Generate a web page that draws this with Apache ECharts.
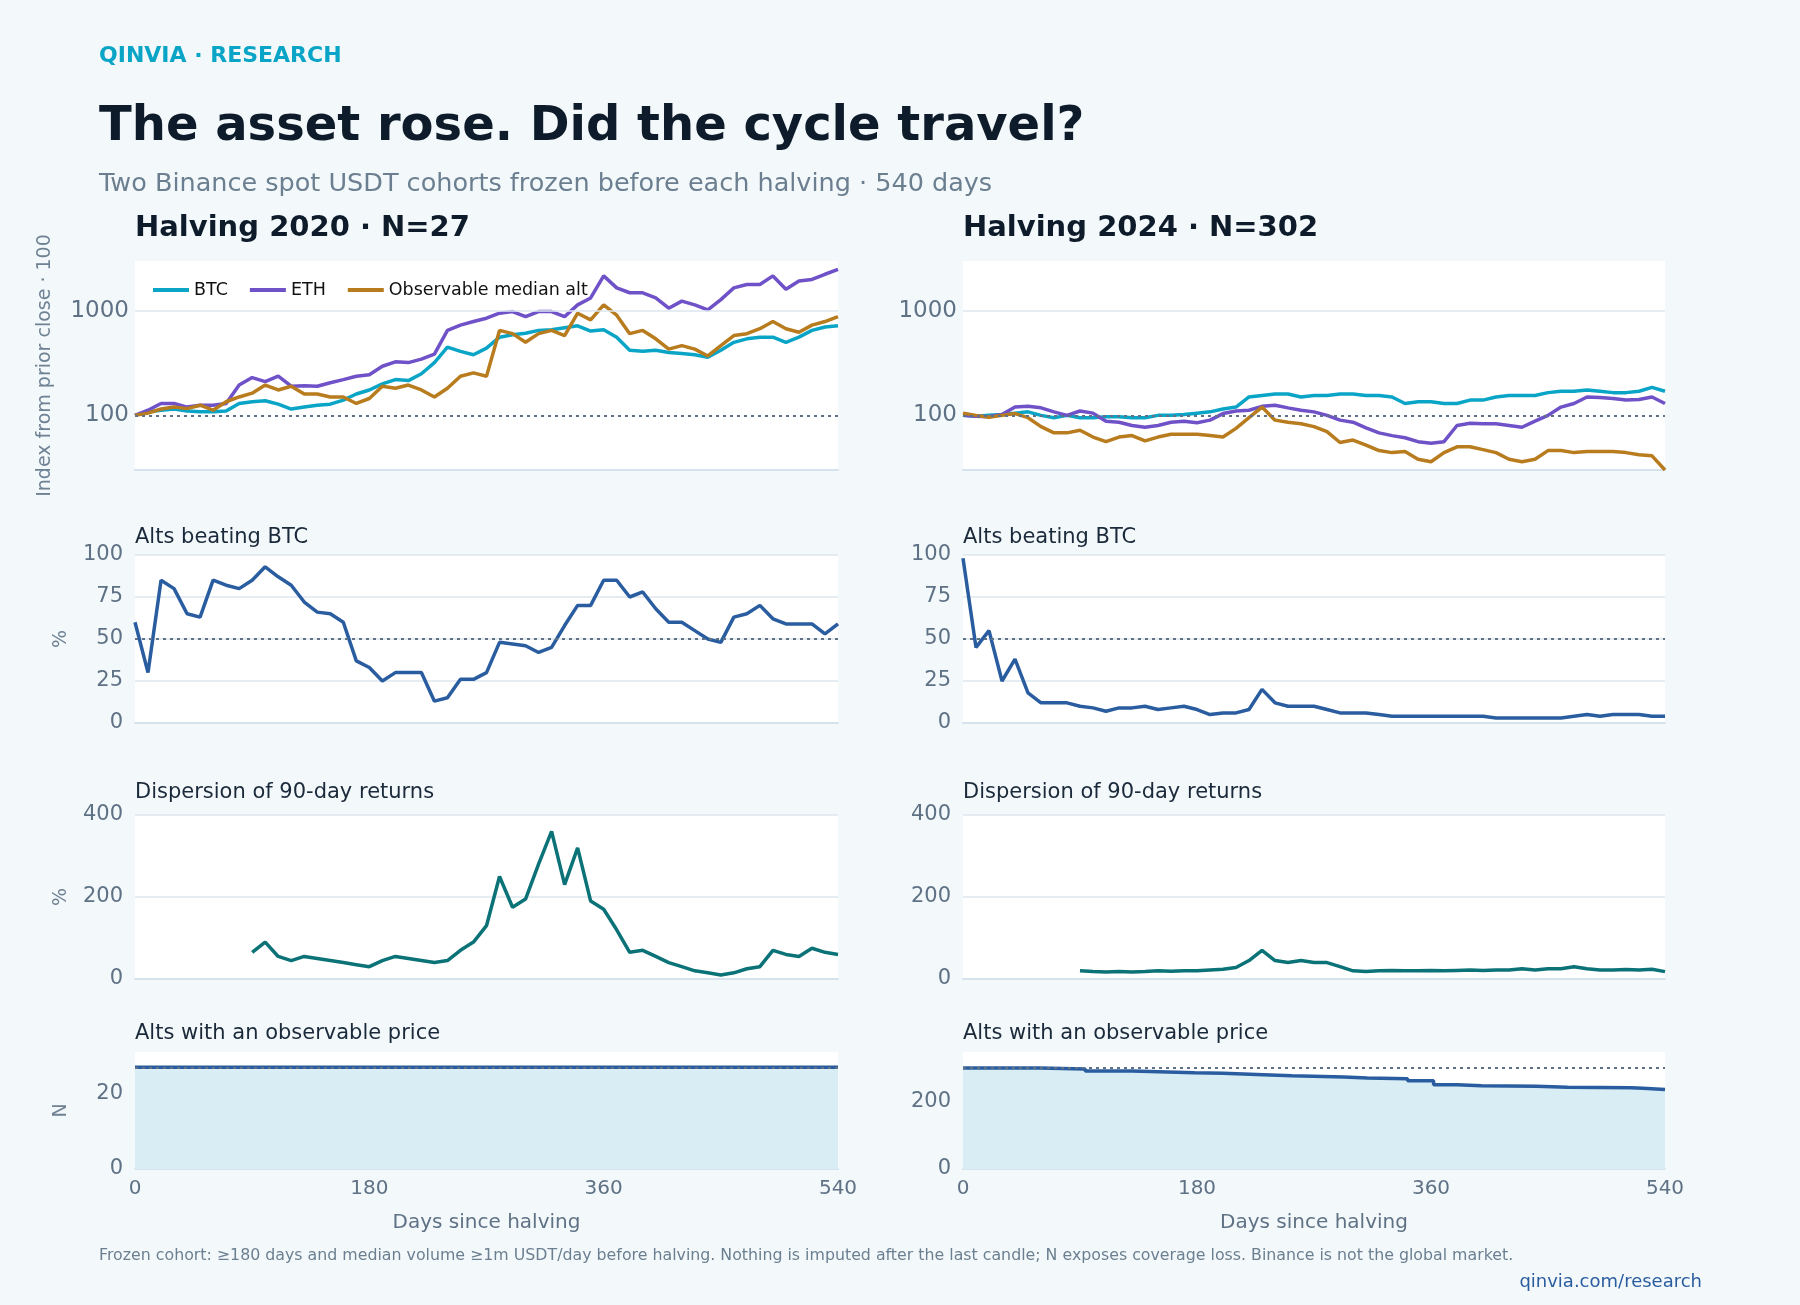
<!DOCTYPE html>
<html><head><meta charset="utf-8">
<script src="https://cdn.jsdelivr.net/npm/echarts@6/dist/echarts.min.js"></script>
<style>html,body{margin:0;padding:0;background:#f3f8fb}#c{width:1800px;height:1305px}</style>
</head><body><div id="c"></div>
<script>
const days = [0,10,20,30,40,50,60,70,80,90,100,110,120,130,140,150,160,170,180,190,200,210,220,230,240,250,260,270,280,290,300,310,320,330,340,350,360,370,380,390,400,410,420,430,440,450,460,470,480,490,500,510,520,530,540];
const xTicks = [0,180,360,540];

const btc20 = [100,108,112,115,110,108,108,110,130,135,138,128,115,120,125,128,140,160,175,200,220,215,250,320,450,410,380,440,560,590,610,650,660,690,720,640,660,560,420,410,420,400,390,380,360,420,500,540,560,560,500,560,650,700,720];
const eth20 = [100,112,130,130,120,125,125,130,195,230,210,237,190,192,190,205,220,237,245,295,325,320,345,385,650,730,790,850,950,985,880,985,985,880,1140,1330,2160,1660,1490,1490,1330,1060,1240,1140,1020,1280,1660,1790,1790,2160,1610,1930,2000,2240,2500];
const alt20 = [100,105,115,120,116,125,112,135,150,163,195,175,190,160,160,150,150,130,145,190,182,195,175,150,182,237,255,237,650,605,500,605,650,580,950,820,1140,910,605,650,540,430,465,430,370,465,580,605,675,790,675,625,730,790,880];

const btc24 = [100,98,100,102,105,108,100,95,100,95,95,97,97,95,95,100,100,102,105,108,115,120,150,155,160,160,150,155,155,160,160,155,155,150,130,135,135,130,130,140,140,150,155,155,155,165,170,170,175,170,165,165,170,185,170];
const eth24 = [100,98,97,102,120,122,118,108,100,110,105,88,86,80,77,80,86,88,85,90,104,110,112,122,125,118,112,108,100,90,86,76,68,64,61,56,54,56,80,84,83,83,80,77,88,100,120,130,150,148,145,140,142,150,130];
const alt24 = [105,100,96,100,104,95,78,68,68,72,62,56,62,64,57,62,66,66,66,64,62,75,95,120,90,86,83,78,70,55,58,52,46,44,45,38,36,44,50,50,47,44,38,36,38,46,46,44,45,45,45,44,42,41,30];

const beat20 = [60,30,85,80,65,63,85,82,80,85,93,87,82,72,66,65,60,37,33,25,30,30,30,13,15,26,26,30,48,47,46,42,45,58,70,70,85,85,75,78,68,60,60,55,50,48,63,65,70,62,59,59,59,53,59];
const beat24 = [98,45,55,25,38,18,12,12,12,10,9,7,9,9,10,8,9,10,8,5,6,6,8,20,12,10,10,10,8,6,6,6,5,4,4,4,4,4,4,4,4,3,3,3,3,3,3,4,5,4,5,5,5,4,4];

const disp20 = [null,null,null,null,null,null,null,null,null,65,90,55,45,55,50,45,40,35,30,45,55,50,45,40,45,70,90,130,250,175,195,280,360,230,320,190,170,120,65,70,55,40,30,20,15,10,15,25,30,70,60,55,75,65,60];
const disp24 = [null,null,null,null,null,null,null,null,null,20,18,17,18,17,18,20,19,20,20,22,24,28,45,70,45,40,45,40,40,30,20,18,20,21,20,20,21,20,21,22,21,22,22,25,22,25,25,30,25,22,22,23,22,24,18];

const nDays20 = [0,540];
const nVals20 = [27,27];
const nTotal20 = 27;
const nDays24 = [0,59,94,130,178,200,231,253,293,311,342,362,380,399,441,465,514,523,540];
const nVals24 = [300,297,291,286,284,280,277,273,270,268,262,250,247,246,243,241,240,236,236];
const nTotal24 = 302;

const C = {btc:'#0aa5c6', eth:'#6f52c8', alt:'#b87c1e', beat:'#2a5d9f', disp:'#0b7377', n:'#2a5d9f', area:'#d9edf4'};
const F = 'DejaVu Sans';
const pairs = (xs, ys) => xs.map((d,i)=>[d, ys[i]]);

const cols = [{left:135, width:703}, {left:963, width:702}];
const rows = [{top:261, height:209}, {top:555, height:168}, {top:815, height:164}, {top:1052, height:117}];

const grids=[], xAxes=[], yAxes=[], series=[];
const lbl = s => ({color:'#5f7285', fontSize:s, fontFamily:F});
let gi=0;
const dotted = v => ({silent:true, symbol:'none', label:{show:false}, lineStyle:{color:'#5f7285', type:[3,4], width:1.8}, data:[{yAxis:v}]});

for (let c=0;c<2;c++){
  for (let r=0;r<4;r++){
    grids.push({left:cols[c].left, width:cols[c].width, top:rows[r].top, height:rows[r].height, show:true, backgroundColor:'#ffffff', borderWidth:0});
    xAxes.push({gridIndex:gi, type:'value', min:0, max:540, interval:180,
      axisLine:{show:true, lineStyle:{color:'#d5e3ee', width:2}}, axisTick:{show:false},
      axisLabel:Object.assign({show:r===3, margin:10}, lbl(20)), splitLine:{show:false},
      name: r===3 ? 'Days since halving':'', nameLocation:'middle', nameGap:44,
      nameTextStyle:{color:'#5f7285', fontSize:20, fontFamily:F}});
    let y;
    if (r===0){
      y = {type:'log', logBase:10, min:30, max:3000, splitLine:{show:false},
        axisLabel:Object.assign({margin:6, formatter: v => (Math.abs(v-100)<1e-6||Math.abs(v-1000)<1e-6)? String(Math.round(v)) : ''}, lbl(23)),
        axisTick:{show:false}, axisLine:{show:false}};
      if (c===0){ y.name='Index from prior close · 100'; }
    } else if (r===1){
      y = {type:'value', min:0, max:100, interval:25, splitLine:{lineStyle:{color:'#dce7ef', width:1.5}}, axisLabel:Object.assign({margin:12},lbl(21)), axisLine:{show:false}, axisTick:{show:false}};
      if (c===0) y.name='%';
    } else if (r===2){
      y = {type:'value', min:0, max:400, interval:200, splitLine:{lineStyle:{color:'#dce7ef', width:1.5}}, axisLabel:Object.assign({margin:12},lbl(21)), axisLine:{show:false}, axisTick:{show:false}};
      if (c===0) y.name='%';
    } else {
      const tot = c===0? nTotal20 : nTotal24;
      y = {type:'value', min:0, max:tot*1.15, interval: c===0? 20:200, splitLine:{show:false}, axisLabel:Object.assign({showMaxLabel:false, margin:12}, lbl(21)), axisLine:{show:false}, axisTick:{show:false}};
      if (c===0) y.name='N';
    }
    y.gridIndex=gi; y.nameLocation='middle';
    y.nameGap = r===0 ? 80 : 64;
    y.nameTextStyle={color:'#6f8294', fontSize:19, fontFamily:F};
    yAxes.push(y);
    gi++;
  }
}

function lineS(name, gidx, data, color, extra){
  return Object.assign({name, type:'line', xAxisIndex:gidx, yAxisIndex:gidx, data, showSymbol:false, symbol:'none',
    lineStyle:{color, width:3.5}, itemStyle:{color}, connectNulls:false, animation:false, z:3}, extra||{});
}
const row1Marks = {silent:true,symbol:'none',label:{show:false},data:[{yAxis:1000, lineStyle:{color:'#dce7ef',type:'solid',width:1.5}},{yAxis:100, lineStyle:{color:'#5f7285',type:[3,4],width:1.8}}]};
series.push(lineS('BTC',0,pairs(days,btc20),C.btc,{markLine:row1Marks}));
series.push(lineS('ETH',0,pairs(days,eth20),C.eth));
series.push(lineS('Observable median alt',0,pairs(days,alt20),C.alt));
series.push(lineS('beat20',1,pairs(days,beat20),C.beat,{markLine:dotted(50)}));
series.push(lineS('disp20',2,pairs(days,disp20),C.disp));
series.push(lineS('n20',3,pairs(nDays20,nVals20),C.n,{step:'end', areaStyle:{color:C.area, opacity:1}, markLine:dotted(nTotal20)}));
series.push(lineS('BTC',4,pairs(days,btc24),C.btc,{markLine:row1Marks}));
series.push(lineS('ETH',4,pairs(days,eth24),C.eth));
series.push(lineS('Observable median alt',4,pairs(days,alt24),C.alt));
series.push(lineS('beat24',5,pairs(days,beat24),C.beat,{markLine:dotted(50)}));
series.push(lineS('disp24',6,pairs(days,disp24),C.disp));
series.push(lineS('n24',7,pairs(nDays24,nVals24),C.n,{step:'end', areaStyle:{color:C.area, opacity:1}, markLine:dotted(nTotal24)}));

const T = (text,left,top,size,color,weight,extra) => Object.assign({text, left, top, padding:0, textStyle:{fontFamily:F, fontSize:size, color, fontWeight:weight||'normal'}}, extra||{});
const titles = [
  T('QINVIA · RESEARCH',99,45,22,'#0aa5c6','bold'),
  T('The asset rose. Did the cycle travel?',99,104,48,'#0d1b2a','bold'),
  T('Two Binance spot USDT cohorts frozen before each halving · 540 days',99,171,25.5,'#6b7f90'),
  T('Halving 2020 · N=27',135,214,29,'#0d1b2a','bold'),
  T('Halving 2024 · N=302',963,214,29,'#0d1b2a','bold'),
  T('Alts beating BTC',135,527,21,'#1b2a3a'),
  T('Alts beating BTC',963,527,21,'#1b2a3a'),
  T('Dispersion of 90-day returns',135,782,21,'#1b2a3a'),
  T('Dispersion of 90-day returns',963,782,21,'#1b2a3a'),
  T('Alts with an observable price',135,1023,21,'#1b2a3a'),
  T('Alts with an observable price',963,1023,21,'#1b2a3a'),
  T('Frozen cohort: ≥180 days and median volume ≥1m USDT/day before halving. Nothing is imputed after the last candle; N exposes coverage loss. Binance is not the global market.',99,1248,15.8,'#6b7f90'),
  T('qinvia.com/research',null,1273,18,'#2a5d9f','normal',{right:98})
];

const chart = echarts.init(document.getElementById('c'), null, {renderer:'canvas'});
chart.setOption({
  backgroundColor:'#f3f8fb', animation:false,
  title: titles,
  legend:{show:true, left:148, top:276, itemWidth:36, itemHeight:4, itemGap:22, data:['BTC','ETH','Observable median alt'],
    textStyle:{fontFamily:F, fontSize:17.5, color:'#111'}, icon:'rect'},
  grid:grids, xAxis:xAxes, yAxis:yAxes, series
});
</script></body></html>
